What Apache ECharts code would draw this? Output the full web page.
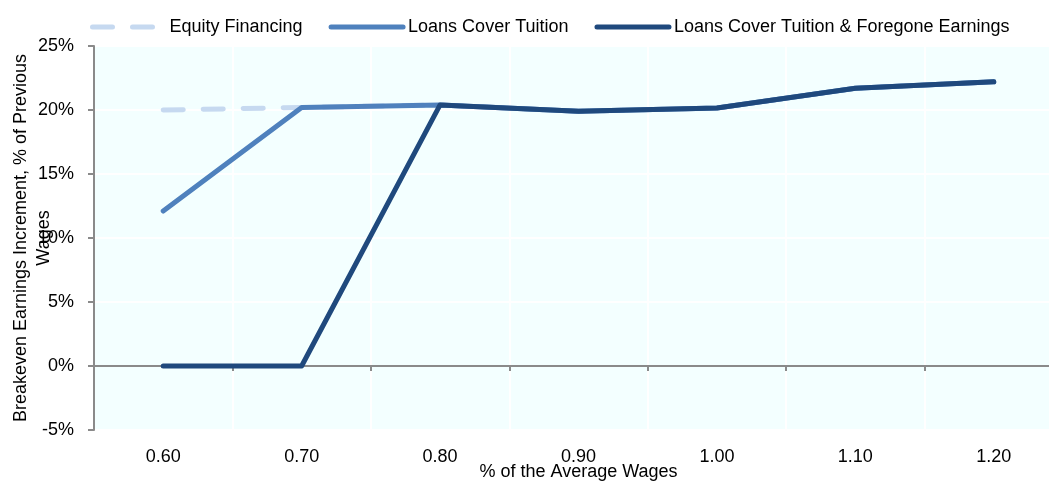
<!DOCTYPE html>
<html>
<head>
<meta charset="utf-8">
<script src="https://cdn.jsdelivr.net/npm/echarts@6/dist/echarts.min.js"></script>
<style>
html,body{margin:0;padding:0;background:#fff;}
#chart{width:1049px;height:481px;}
</style>
</head>
<body>
<div id="chart"></div>
<script>
const categories = ['0.60', '0.70', '0.80', '0.90', '1.00', '1.10', '1.20'];
const equityFinancing = [20.0, 20.2, 20.4, 19.9, 20.15, 21.7, 22.2];
const loansCoverTuition = [12.1, 20.2, 20.4, 19.9, 20.15, 21.7, 22.2];
const loansTuitionForegone = [0, 0, 20.4, 19.9, 20.15, 21.7, 22.2];
const yTicks = [-5, 0, 5, 10, 15, 20, 25];

const FONT = '"Liberation Sans Narrow", "Arial Narrow", "Liberation Sans", Arial, sans-serif';
const FS = 18;
const chart = echarts.init(document.getElementById('chart'), null, {renderer: 'canvas'});
chart.setOption({
  animation: false,
  textStyle: {fontFamily: FONT},
  legend: {
    top: 18,
    left: 90,
    padding: 0,
    width: 959,
    itemWidth: 72,
    itemHeight: 14,
    itemGap: 26,
    lineStyle: {width: 5},
    itemStyle: {color: 'transparent', borderColor: 'transparent', borderWidth: 0},
    textStyle: {fontFamily: FONT, fontSize: FS, color: '#000', padding: [0, 0, 0, 0]},
    data: ['Equity Financing', 'Loans Cover Tuition', 'Loans Cover Tuition & Foregone Earnings']
  },
  grid: {
    left: 94, right: -14, top: 46, bottom: 51,
    show: true, backgroundColor: '#F3FFFF', borderWidth: 0,
    containLabel: false,
    outerBoundsMode: 'none'
  },
  xAxis: [
    {
      type: 'category',
      data: categories,
      boundaryGap: true,
      position: 'bottom',
      name: '% of the Average Wages',
      nameLocation: 'middle',
      nameGap: 33,
      nameMoveOverlap: false,
      nameTextStyle: {fontFamily: FONT, fontSize: FS, color: '#000'},
      axisLine: {show: false, onZero: false},
      axisTick: {show: false},
      axisLabel: {margin: 18, fontFamily: FONT, fontSize: FS, color: '#000'},
      splitLine: {show: true, lineStyle: {color: '#ffffff', width: 2}}
    },
    {
      type: 'category',
      data: categories,
      boundaryGap: true,
      position: 'bottom',
      axisLine: {show: true, onZero: true, lineStyle: {color: '#8a8a8a', width: 2}},
      axisTick: {show: true, length: 5, lineStyle: {color: '#8a8a8a', width: 2}},
      axisLabel: {show: false},
      splitLine: {show: false}
    }
  ],
  yAxis: {
    type: 'value',
    min: -5, max: 25, interval: 5,
    name: 'Breakeven Earnings Increment, % of Previous\nWages',
    nameLocation: 'middle',
    nameRotate: 90,
    nameGap: 38,
    nameMoveOverlap: false,
    nameTextStyle: {fontFamily: FONT, fontSize: FS, color: '#000', lineHeight: 23},
    axisLine: {show: true, lineStyle: {color: '#8a8a8a', width: 2}},
    axisTick: {show: true, length: 6, lineStyle: {color: '#8a8a8a', width: 2}},
    axisLabel: {
      margin: 20, fontFamily: FONT, fontSize: FS, color: '#000',
      formatter: function (v) { return yTicks.indexOf(v) >= 0 ? v + '%' : ''; }
    },
    splitLine: {show: true, lineStyle: {color: '#ffffff', width: 2}}
  },
  series: [
    {
      name: 'Equity Financing', type: 'line', data: equityFinancing,
      symbol: 'none', z: 2,
      lineStyle: {color: '#C6D9F0', width: 5, type: [20, 20], cap: 'round'},
      itemStyle: {color: '#C6D9F0'}
    },
    {
      name: 'Loans Cover Tuition', type: 'line', data: loansCoverTuition,
      symbol: 'none', z: 3,
      lineStyle: {color: '#4F81BD', width: 5, cap: 'round', join: 'round'},
      itemStyle: {color: '#4F81BD'}
    },
    {
      name: 'Loans Cover Tuition & Foregone Earnings', type: 'line', data: loansTuitionForegone,
      symbol: 'none', z: 4,
      lineStyle: {color: '#1F497D', width: 5, cap: 'round', join: 'round'},
      itemStyle: {color: '#1F497D'}
    }
  ]
});
</script>
</body>
</html>
